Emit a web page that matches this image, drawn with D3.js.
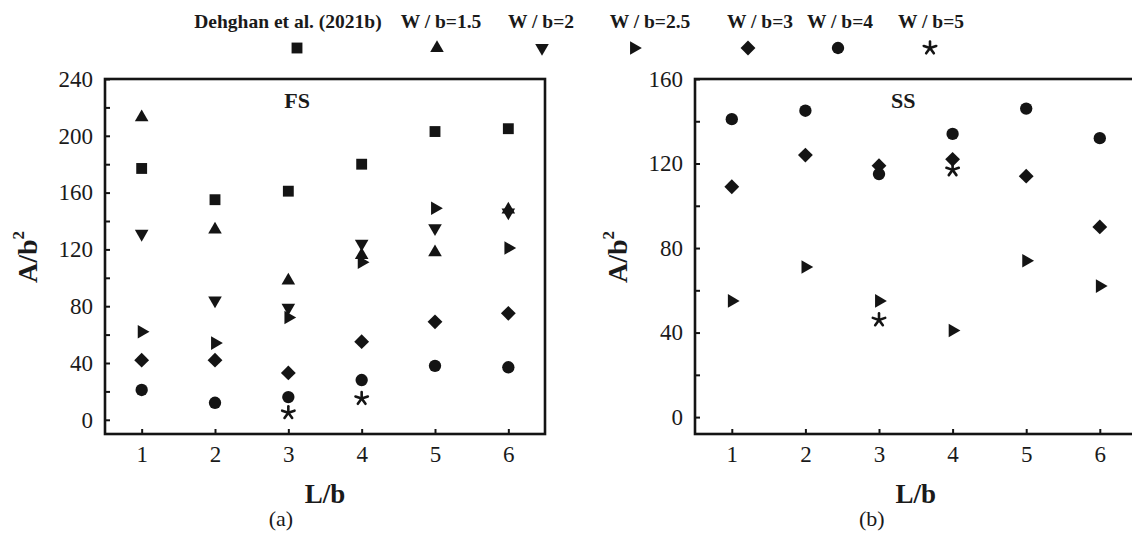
<!DOCTYPE html>
<html>
<head>
    <meta charset="utf-8">
    <title>FS / SS A/b2 vs L/b</title>
    <script src="https://d3js.org/d3.v7.min.js"></script>
    <style>
        body { margin: 0; background: #fff; }
        svg text { font-family: "Liberation Serif", "Times New Roman", serif; fill: #1a1a1a; }
    </style>
</head>
<body>
<div id="chart"></div>
<script type="text/javascript">
    // L/b values on the x axis
    const ratios = [1, 2, 3, 4, 5, 6];

    // legend labels (same order as the series below)
    const seriesNames = ['Dehghan et al. (2021b)', 'W / b=1.5', 'W / b=2', 'W / b=2.5', 'W / b=3', 'W / b=4', 'W / b=5'];

    // (a) FS  - values of A/b^2, null = no point
    const dehghanFS = [177, 155, 161, 180, 203, 205];
    const wb15FS = [213, 134, 98, 116, 118, 148];
    const wb2FS = [131, 84, 79, 124, 135, 146];
    const wb25FS = [62, 54, 72, 111, 149, 121];
    const wb3FS = [42, 42, 33, 55, 69, 75];
    const wb4FS = [21, 12, 16, 28, 38, 37];
    const wb5FS = [null, null, 5, 15, null, null];

    // (b) SS
    const dehghanSS = [null, null, null, null, null, null];
    const wb15SS = [null, null, null, null, null, null];
    const wb2SS = [null, null, null, null, null, null];
    const wb25SS = [55, 71, 55, 41, 74, 62];
    const wb3SS = [109, 124, 119, 122, 114, 90];
    const wb4SS = [141, 145, 115, 134, 146, 132];
    const wb5SS = [null, null, 46, 117, null, null];

    const yTicksFS = d3.range(0, 241, 20);
    const yTicksSS = d3.range(0, 161, 20);

    const width = 1132, height = 537;
    const ink = '#141414';
    const serif = '"Liberation Serif", "Times New Roman", serif';

    const svg = d3.select('#chart').append('svg')
        .attr('width', width).attr('height', height);

    // marker shapes, one per series
    const markers = [
        {type: d3.symbolSquare, size: 118, rotate: 0},
        {type: d3.symbolTriangle, size: 80, rotate: 0},
        {type: d3.symbolTriangle, size: 80, rotate: 180},
        {type: d3.symbolTriangle, size: 80, rotate: 90},
        {type: d3.symbolSquare, size: 110, rotate: 45},
        {type: d3.symbolCircle, size: 120, rotate: 0},
        {type: 'star', size: 6.5, rotate: 0}
    ];

    function drawMarker(g, i, x, y) {
        const m = markers[i];
        if (m.type === 'star') {
            // 5 arm asterisk like the picture
            const s = g.append('g').attr('transform', `translate(${x},${y})`);
            d3.range(5).forEach(k => {
                const a = (-90 + k * 72) * Math.PI / 180;
                s.append('line')
                    .attr('x1', 0).attr('y1', 0)
                    .attr('x2', m.size * Math.cos(a)).attr('y2', m.size * Math.sin(a))
                    .attr('stroke', ink).attr('stroke-width', 2.6).attr('stroke-linecap', 'round');
            });
            return;
        }
        g.append('path')
            .attr('d', d3.symbol().type(m.type).size(m.size)())
            .attr('transform', `translate(${x},${y}) rotate(${m.rotate})`)
            .attr('fill', ink);
    }

    function panel(opts) {
        const x = d3.scaleLinear().domain([0.5, 6.5]).range([opts.left, opts.right]);
        const y = d3.scaleLinear().domain(opts.yDomain).range([434, 79]);
        const g = svg.append('g');

        // y axis, inward ticks, label every 40
        const yAxis = g.append('g').attr('transform', `translate(${opts.left},0)`)
            .call(d3.axisLeft(y).tickValues(opts.yTicks).tickSize(-5).tickPadding(12)
                .tickFormat(d => d % 40 === 0 ? d : ''));
        const xAxis = g.append('g').attr('transform', `translate(0,434)`)
            .call(d3.axisBottom(x).tickValues(ratios).tickSize(-5).tickPadding(12).tickFormat(d3.format('d')));
        [yAxis, xAxis].forEach(a => {
            a.attr('font-family', serif).attr('font-size', 23);
            a.select('.domain').remove();
            a.selectAll('line').attr('stroke', ink).attr('stroke-width', 2);
            a.selectAll('text').style('font-family', serif).style('font-size', '23px').attr('fill', ink);
        });

        // frame
        g.append('rect')
            .attr('x', opts.left).attr('y', 79)
            .attr('width', opts.right - opts.left).attr('height', 434 - 79)
            .attr('fill', 'none').attr('stroke', ink).attr('stroke-width', 2.6);

        // points
        opts.series.forEach((vals, i) => {
            vals.forEach((v, j) => {
                if (v === null) return;
                drawMarker(g, i, x(ratios[j]), y(v));
            });
        });

        // case label
        g.append('text')
            .attr('x', x(opts.tagAt)).attr('y', 108)
            .attr('text-anchor', 'middle').attr('font-size', 22).attr('font-weight', 'bold')
            .text(opts.tag);

        // axis titles
        const cx = (opts.left + opts.right) / 2;
        g.append('text')
            .attr('x', cx).attr('y', 503)
            .attr('text-anchor', 'middle').attr('font-size', 27).attr('font-weight', 'bold')
            .text('L/b');
        g.append('text')
            .attr('x', cx - 44).attr('y', 526)
            .attr('text-anchor', 'middle').attr('font-size', 22)
            .text(opts.sub);

        const yt = g.append('text')
            .attr('transform', `translate(${opts.left - 68},257) rotate(-90)`)
            .attr('text-anchor', 'middle').attr('font-size', 28).attr('font-weight', 'bold');
        yt.append('tspan').text('A/b');
        yt.append('tspan').attr('font-size', 17).attr('dy', -13).text('2');
    }

    panel({
        left: 105, right: 545, yDomain: [-10, 240], yTicks: yTicksFS,
        series: [dehghanFS, wb15FS, wb2FS, wb25FS, wb3FS, wb4FS, wb5FS],
        tag: 'FS', tagAt: 3.12, sub: '(a)'
    });
    panel({
        left: 695, right: 1136.6, yDomain: [-8, 160], yTicks: yTicksSS,
        series: [dehghanSS, wb15SS, wb2SS, wb25SS, wb3SS, wb4SS, wb5SS],
        tag: 'SS', tagAt: 3.33, sub: '(b)'
    });

    // legend on top: label above, marker below
    const legendTextX = [288, 441, 541, 650, 760, 840, 931];
    const legendMarkX = [297, 437, 542, 634, 748, 838, 930];
    const legend = svg.append('g');
    seriesNames.forEach((name, i) => {
        legend.append('text')
            .attr('x', legendTextX[i]).attr('y', 28)
            .attr('text-anchor', 'middle').attr('font-size', 19.5).attr('font-weight', 'bold')
            .text(name);
        drawMarker(legend, i, legendMarkX[i], 48);
    });
</script>
</body>
</html>
